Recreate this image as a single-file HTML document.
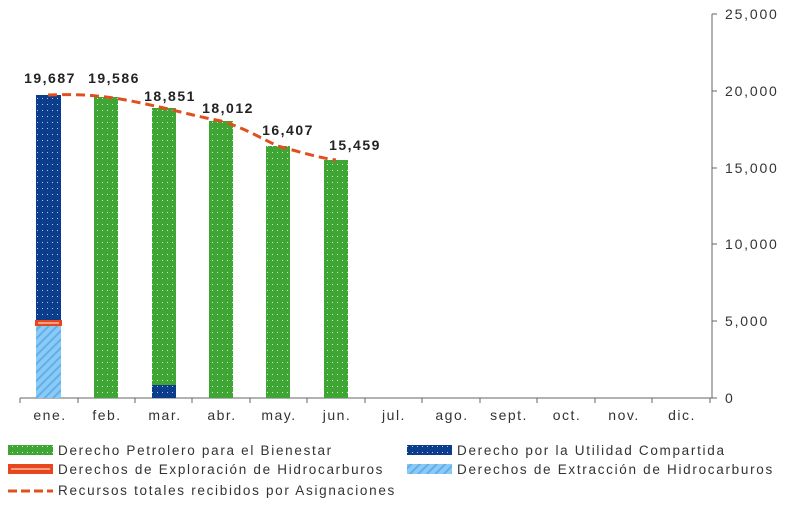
<!DOCTYPE html>
<html><head><style>
body{margin:0;background:#fff;}
svg text{font-family:"Liberation Sans",sans-serif;fill:#333;}
</style></head><body>
<svg width="800" height="500" xmlns="http://www.w3.org/2000/svg">
<defs>
<pattern id="pg" width="5" height="6" patternUnits="userSpaceOnUse"><rect width="5" height="6" fill="#3fa535"/><rect x="2" y="2" width="1" height="1" fill="#c8f0c0"/></pattern>
<pattern id="pb" width="5" height="6" patternUnits="userSpaceOnUse"><rect width="5" height="6" fill="#0b3d8c"/><rect x="2" y="2" width="1" height="1" fill="#b0c8f0"/></pattern>
<pattern id="pl" width="6" height="6" patternUnits="userSpaceOnUse" patternTransform="rotate(45)"><rect width="6" height="6" fill="#8ccaf5"/><rect width="2" height="6" fill="#5cb0ec"/></pattern>
</defs>
<line x1="20" y1="398" x2="712" y2="398" stroke="#666" stroke-width="1"/>
<line x1="712" y1="14" x2="712" y2="398" stroke="#666" stroke-width="1"/>
<g stroke="#666">
<line x1="20" y1="398" x2="20" y2="403"/><line x1="78" y1="398" x2="78" y2="403"/><line x1="135" y1="398" x2="135" y2="403"/><line x1="192" y1="398" x2="192" y2="403"/><line x1="250" y1="398" x2="250" y2="403"/><line x1="307" y1="398" x2="307" y2="403"/><line x1="365" y1="398" x2="365" y2="403"/><line x1="422" y1="398" x2="422" y2="403"/><line x1="480" y1="398" x2="480" y2="403"/><line x1="537" y1="398" x2="537" y2="403"/><line x1="595" y1="398" x2="595" y2="403"/><line x1="652" y1="398" x2="652" y2="403"/><line x1="710" y1="398" x2="710" y2="403"/>
<line x1="712" y1="14" x2="717" y2="14"/><line x1="712" y1="91" x2="717" y2="91"/><line x1="712" y1="168" x2="717" y2="168"/><line x1="712" y1="244" x2="717" y2="244"/><line x1="712" y1="321" x2="717" y2="321"/><line x1="712" y1="398" x2="717" y2="398"/>
</g>
<g font-size="14" letter-spacing="1.8">
<text x="725" y="19">25,000</text><text x="725" y="96">20,000</text><text x="725" y="173">15,000</text><text x="725" y="249">10,000</text><text x="725" y="326">5,000</text><text x="725" y="403">0</text>
</g>
<g font-size="14" text-anchor="middle" letter-spacing="1.5">
<text x="50" y="420">ene.</text><text x="107" y="420">feb.</text><text x="165" y="420">mar.</text><text x="222" y="420">abr.</text><text x="279" y="420">may.</text><text x="337" y="420">jun.</text><text x="394" y="420">jul.</text><text x="452" y="420">ago.</text><text x="509" y="420">sept.</text><text x="567" y="420">oct.</text><text x="624" y="420">nov.</text><text x="682" y="420">dic.</text>
</g>
<rect x="36" y="326" width="25" height="72" fill="url(#pl)"/>
<rect x="35" y="320" width="27" height="6" fill="#e8461e"/>
<rect x="38" y="322" width="21" height="2" fill="#f5a080"/>
<rect x="36" y="95" width="25" height="225" fill="url(#pb)"/>
<rect x="94" y="97" width="24" height="301" fill="url(#pg)"/>
<rect x="152" y="108" width="24" height="277" fill="url(#pg)"/>
<rect x="152" y="385" width="24" height="13" fill="url(#pb)"/>
<rect x="209" y="121" width="24" height="277" fill="url(#pg)"/>
<rect x="266" y="146" width="24" height="252" fill="url(#pg)"/>
<rect x="324" y="160" width="24" height="238" fill="url(#pg)"/>
<path d="M48,95 C75,94 90,95 106,97 C130,100 145,104 164,108 C185,113 200,117 221,121 C245,128 260,138 278,146 C300,152 320,158 336,160" fill="none" stroke="#e0501e" stroke-width="3" stroke-dasharray="9,5"/>
<g font-size="14" font-weight="bold" text-anchor="middle" letter-spacing="1.5">
<text x="50" y="83" style="fill:#222">19,687</text><text x="114" y="83" style="fill:#222">19,586</text><text x="170" y="101" style="fill:#222">18,851</text><text x="228" y="113" style="fill:#222">18,012</text><text x="288" y="135" style="fill:#222">16,407</text><text x="355" y="150" style="fill:#222">15,459</text>
</g>
<g font-size="13.5" letter-spacing="1.7">
<rect x="8" y="445" width="45" height="10" fill="url(#pg)"/>
<text x="58" y="455">Derecho Petrolero para el Bienestar</text>
<rect x="8" y="464" width="45" height="10" fill="#e8461e"/>
<rect x="11" y="468" width="39" height="2" fill="#f5a080"/>
<text x="58" y="474">Derechos de Exploración de Hidrocarburos</text>
<line x1="8" y1="491" x2="53" y2="491" stroke="#e0501e" stroke-width="3" stroke-dasharray="9,4"/>
<text x="58" y="495">Recursos totales recibidos por Asignaciones</text>
<rect x="407" y="445" width="45" height="10" fill="url(#pb)"/>
<text x="457" y="455">Derecho por la Utilidad Compartida</text>
<rect x="407" y="464" width="45" height="10" fill="url(#pl)"/>
<text x="457" y="474">Derechos de Extracción de Hidrocarburos</text>
</g>
</svg>
</body></html>
